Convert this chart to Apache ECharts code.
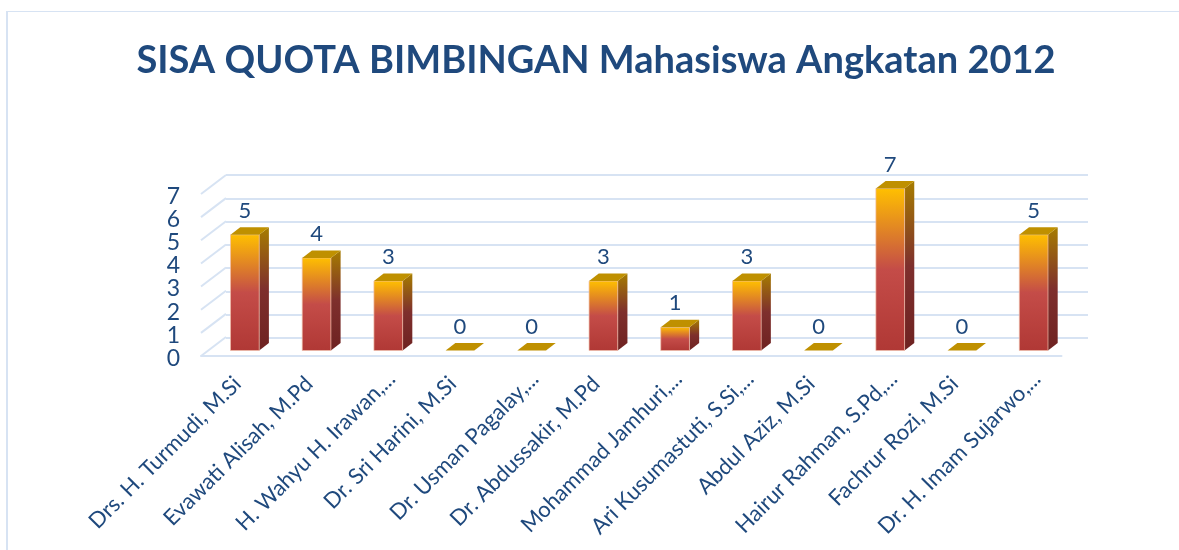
<!DOCTYPE html>
<html>
<head>
<meta charset="utf-8">
<title>SISA QUOTA BIMBINGAN</title>
<script src="https://cdn.jsdelivr.net/npm/echarts@6/dist/echarts.min.js"></script>
<style>
    html, body { margin: 0; padding: 0; background: #fff; }
    #main { width: 1179px; height: 550px; }
</style>
</head>
<body>
<div id="main"></div>
<script>
const categories = [
    'Drs. H. Turmudi, M.Si',
    'Evawati Alisah, M.Pd',
    'H. Wahyu H. Irawan,...',
    'Dr. Sri Harini, M.Si',
    'Dr. Usman Pagalay,...',
    'Dr. Abdussakir, M.Pd',
    'Mohammad Jamhuri,...',
    'Ari Kusumastuti, S.Si,...',
    'Abdul Aziz, M.Si',
    'Hairur Rahman, S.Pd,...',
    'Fachrur Rozi, M.Si',
    'Dr. H. Imam Sujarwo,...'
];
const quota = [5, 4, 3, 0, 0, 3, 1, 3, 0, 7, 0, 5];
const yTicks = [0, 1, 2, 3, 4, 5, 6, 7];

const blue = '#1F497D';
const wallLine = '#D7E3F3';
const font = 'Lato';

// fake 3d: the bars sit a little behind the front plane of the floor
const barShift = [8, -5.5];
const barDepth = [9.7, -7.5];
const wallShift = [25, -19];

function vertical(stops) {
    return new echarts.graphic.LinearGradient(0, 0, 0, 1, stops);
}

function renderBar(params, api) {
    const value = api.value(1);
    const bottom = api.coord([api.value(0), 0]);
    const top = api.coord([api.value(0), value]);
    const half = api.size([1, 0])[0] * 0.2;
    const x0 = bottom[0] + barShift[0] - half;
    const x1 = bottom[0] + barShift[0] + half;
    const y0 = bottom[1] + barShift[1];
    const y1 = top[1] + barShift[1];
    const dx = barDepth[0];
    const dy = barDepth[1];
    const children = [];
    if (value > 0) {
        children.push({
            type: 'polygon',
            shape: { points: [[x1, y1], [x1 + dx, y1 + dy], [x1 + dx, y0 + dy], [x1, y0]] },
            style: {
                fill: vertical([
                    { offset: 0, color: '#A67C00' },
                    { offset: 0.5, color: '#7E2F2D' },
                    { offset: 1, color: '#6E2221' }
                ])
            }
        });
        children.push({
            type: 'rect',
            shape: { x: x0, y: y1, width: x1 - x0, height: y0 - y1 },
            style: {
                fill: vertical([
                    { offset: 0, color: '#FFC000' },
                    { offset: 0.5, color: '#C44C48' },
                    { offset: 1, color: '#B03835' }
                ]),
                stroke: 'rgba(240,190,170,0.7)',
                lineWidth: 1
            }
        });
    }
    children.push({
        type: 'polygon',
        shape: { points: [[x0, y1], [x0 + dx, y1 + dy], [x1 + dx, y1 + dy], [x1, y1]] },
        style: { fill: '#BF9000' }
    });
    children.push({
        type: 'text',
        style: {
            text: String(value),
            x: bottom[0] + barShift[0],
            y: y1 - 24,
            align: 'center',
            verticalAlign: 'middle',
            fill: blue,
            font: '22px ' + font
        }
    });
    return { type: 'group', children: children };
}

// the short lines that join each back wall gridline to its tick on the front plane
function renderWallEdge(params, api) {
    const y = api.coord([0, api.value(0)])[1];
    const x = params.coordSys.x;
    return {
        type: 'line',
        shape: { x1: x, y1: y, x2: x + wallShift[0], y2: y + wallShift[1] },
        style: { stroke: wallLine, lineWidth: 2 }
    };
}

const labelText = { color: blue, fontFamily: font, fontSize: 22 };

const myChart = echarts.init(document.getElementById('main'));
myChart.setOption({
    animation: false,
    backgroundColor: '#fff',
    title: {
        text: 'SISA QUOTA BIMBINGAN Mahasiswa Angkatan 2012',
        left: 591,
        top: 37,
        textAlign: 'center',
        textStyle: { color: blue, fontFamily: font, fontWeight: 'bold', fontSize: 38 }
    },
    graphic: [
        { type: 'rect', shape: { x: 6, y: 11, width: 1173, height: 1 }, style: { fill: wallLine } },
        { type: 'rect', shape: { x: 6, y: 11, width: 2, height: 539 }, style: { fill: wallLine } }
    ],
    grid: [
        // front plane: floor line and all the labels
        { left: 201, right: 117.5, top: 194, bottom: 194 },
        // back wall: gridlines
        { left: 226, right: 91, top: 175, bottom: 212 }
    ],
    xAxis: [
        {
            type: 'category',
            gridIndex: 0,
            data: categories,
            axisTick: { show: false },
            axisLine: { lineStyle: { color: wallLine, width: 2 } },
            axisLabel: {
                interval: 0,
                rotate: 45,
                margin: 8,
                color: blue,
                fontFamily: font,
                fontSize: 22,
                // truncated names sit a bit further right in the original than the whole ones
                formatter: name => (name.endsWith('...') ? '{cut|' + name + '}' : '{whole|' + name + '}'),
                rich: {
                    cut: { ...labelText, padding: [32, 0, 0, 0] },
                    whole: { ...labelText, padding: [24, 11, 0, 0] }
                }
            }
        },
        {
            type: 'category',
            gridIndex: 1,
            data: categories,
            axisTick: { show: false },
            axisLine: { show: false },
            axisLabel: { show: false }
        }
    ],
    yAxis: [
        {
            type: 'value',
            gridIndex: 0,
            min: yTicks[0],
            max: yTicks[yTicks.length - 1],
            interval: 1,
            splitLine: { show: false },
            axisLine: { show: false },
            axisTick: { show: false },
            axisLabel: {
                margin: 21,
                color: blue,
                fontFamily: font,
                fontSize: 23,
                formatter: '{tick|{value}}',
                rich: { tick: { ...labelText, fontSize: 23, padding: [5, 0, 0, 0] } }
            }
        },
        {
            type: 'value',
            gridIndex: 1,
            min: yTicks[0],
            max: yTicks[yTicks.length - 1],
            interval: 1,
            axisLine: { show: false },
            axisTick: { show: false },
            axisLabel: { show: false },
            splitLine: { lineStyle: { color: wallLine, width: 2 } }
        }
    ],
    series: [
        {
            type: 'custom',
            xAxisIndex: 0,
            yAxisIndex: 0,
            renderItem: renderWallEdge,
            encode: { y: 0 },
            data: yTicks.map(v => [v]),
            silent: true,
            z: 1
        },
        {
            type: 'custom',
            name: 'Sisa Quota',
            xAxisIndex: 0,
            yAxisIndex: 0,
            renderItem: renderBar,
            encode: { x: 0, y: 1 },
            data: quota.map((v, i) => [i, v]),
            z: 5
        }
    ]
});
</script>
</body>
</html>
